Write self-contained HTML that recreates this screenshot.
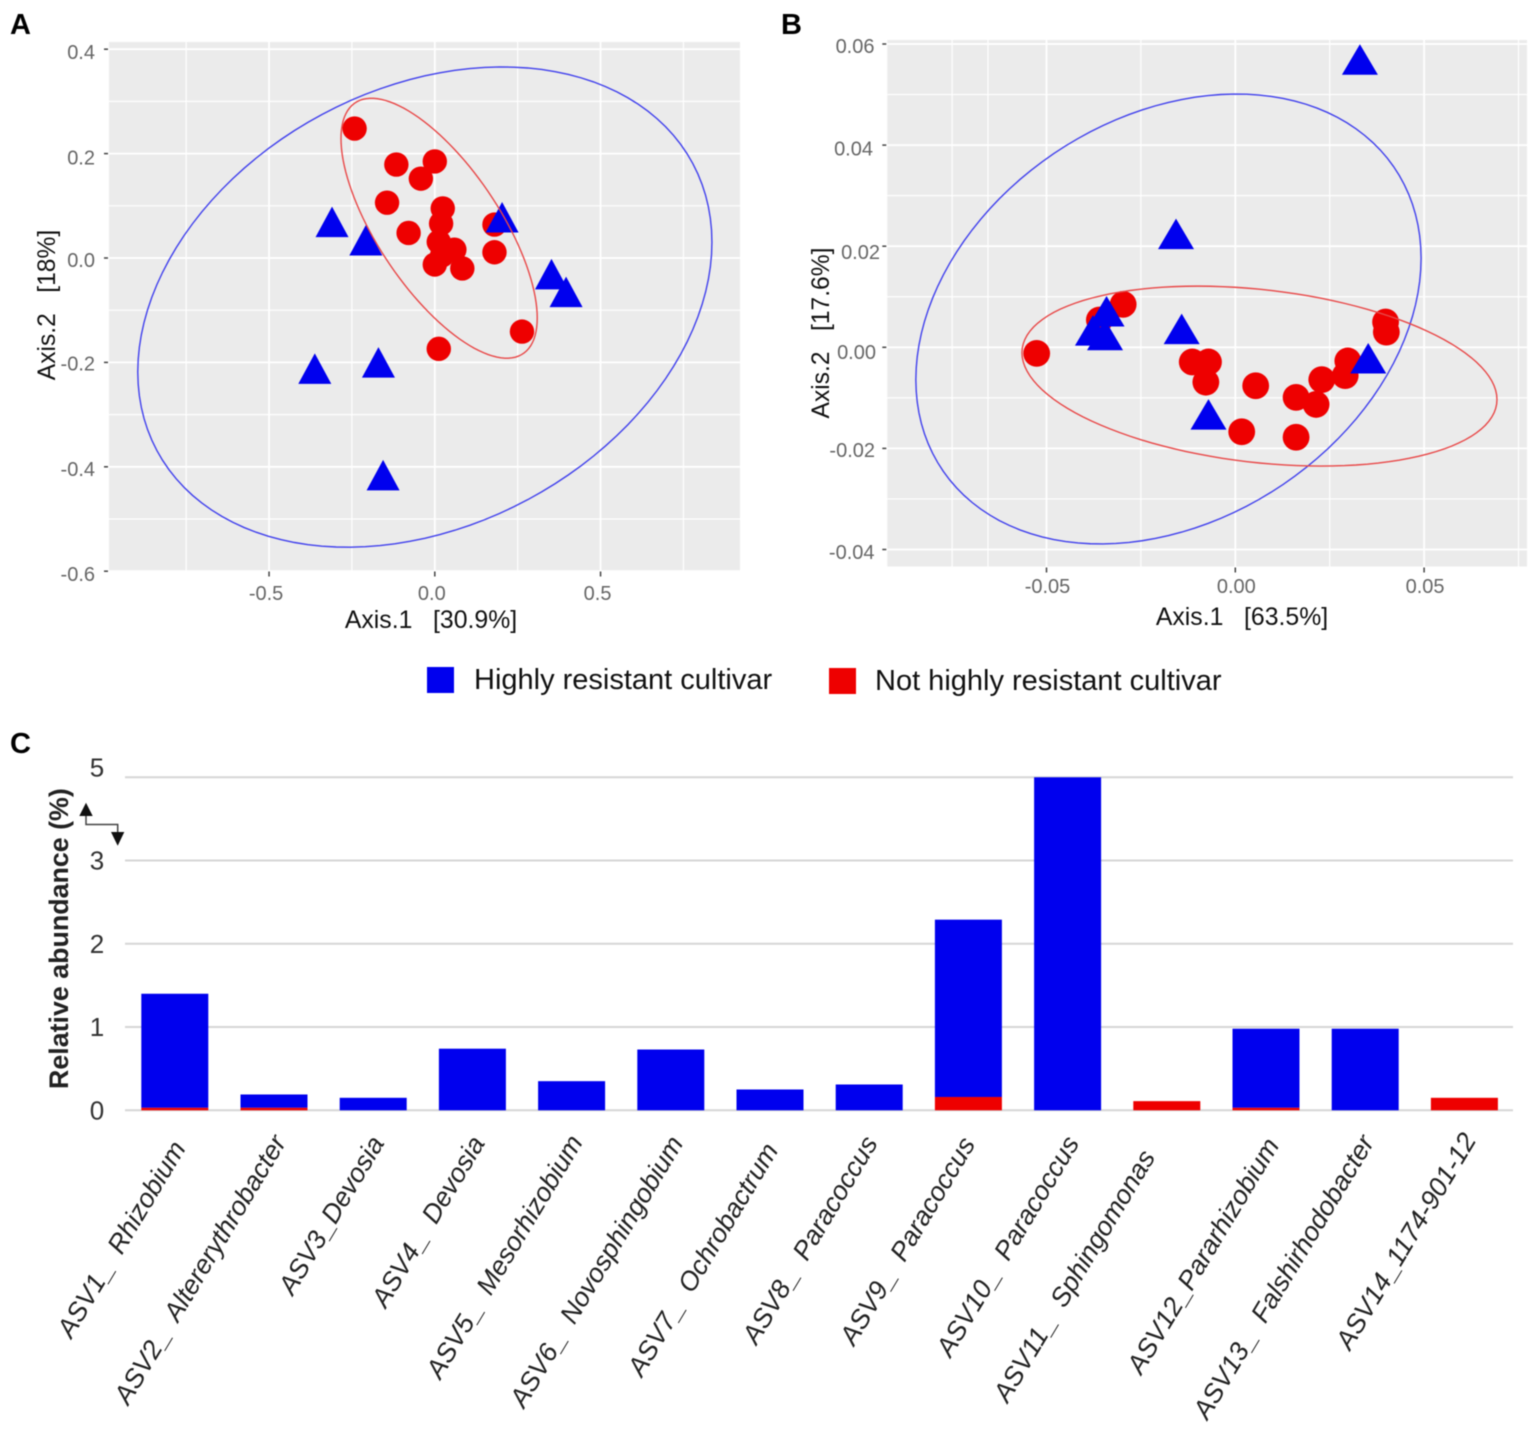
<!DOCTYPE html>
<html lang="en">
<head>
<meta charset="utf-8">
<title>Ordination plots and relative abundance chart</title>
<style>
  html, body { margin: 0; padding: 0; background: #fff; }
  body { width: 1535px; height: 1430px; overflow: hidden; }
  svg { display: block; font-family: "Liberation Sans", Arial, sans-serif; filter: blur(0.45px); }
  text { white-space: pre; }
</style>
</head>
<body>
<svg id="figure" xmlns="http://www.w3.org/2000/svg" width="1535" height="1430" viewBox="0 0 1535 1430">
  <rect x="0" y="0" width="1535" height="1430" fill="#ffffff"/>

  <text x="10" y="34" font-size="29" font-weight="bold" fill="#000">A</text>
  <text x="781" y="34" font-size="29" font-weight="bold" fill="#000">B</text>
  <text x="10" y="753" font-size="29" font-weight="bold" fill="#000">C</text>

  <g id="panelA"></g>
  <g id="panelB"></g>

  <g>
    <g>
      <rect x="427" y="667" width="27" height="26" fill="#0000ee"/>
      <text x="474" y="689" font-size="29" fill="#111">Highly resistant cultivar</text>
    </g>
    <g>
      <rect x="829" y="668" width="27" height="26" fill="#ee0000"/>
      <text x="875" y="690" font-size="29" fill="#111">Not highly resistant cultivar</text>
    </g>
  </g>

  <g id="panelC"></g>
  <text transform="translate(68,1089) rotate(-90)" font-size="26.8" font-weight="bold" fill="#222">Relative abundance (%)</text>
  <g>
    <path d="M86 814 V824.5 H117.7 V835" fill="none" stroke="#444" stroke-width="1.5"/>
    <polygon points="86,802.7 92.7,816 79.3,816" fill="#111"/>
    <polygon points="111,832 124.3,832 117.7,845.7" fill="#111"/>
  </g>
</svg>

<script>
/* ---------- Panel A data ---------- */
const aXTicks = [-0.5, 0, 0.5];
const aXTickLabels = ["-0.5", "0.0", "0.5"];
const aXMinor = [-0.75, -0.25, 0.25, 0.75];
const aYTicks = [0.4, 0.2, 0, -0.2, -0.4, -0.6];
const aYTickLabels = ["0.4", "0.2", "0.0", "-0.2", "-0.4", "-0.6"];
const aYMinor = [0.3, 0.1, -0.1, -0.3, -0.5];
const aCircleX = [-0.242, -0.116, 0.0, -0.042, -0.144, 0.024, 0.019, -0.079, 0.012, 0.059, 0.022, 0.0, 0.083, 0.18, 0.18, 0.263, 0.012];
const aCircleY = [0.248, 0.179, 0.185, 0.152, 0.106, 0.095, 0.066, 0.048, 0.031, 0.016, 0.005, -0.0125, -0.02, 0.011, 0.064, -0.141, -0.174];
const aTriangleX = [-0.31, -0.208, 0.203, 0.352, 0.396, -0.17, -0.362, -0.156];
const aTriangleY = [0.06, 0.025, 0.069, -0.04, -0.074, -0.209, -0.221, -0.425];
/* Ellipse summaries: centre [x, y], half-extent [x, y], correlation */
const aBlueEllipseCentre = [-0.030, -0.094];
const aBlueEllipseExtent = [0.866, 0.460];
const aBlueEllipseCorrelation = [0.27];
const aRedEllipseCentre = [0.013, 0.057];
const aRedEllipseExtent = [0.296, 0.249];
const aRedEllipseCorrelation = [-0.69];

/* ---------- Panel B data ---------- */
const bXTicks = [-0.05, 0, 0.05];
const bXTickLabels = ["-0.05", "0.00", "0.05"];
const bXMinor = [-0.075, -0.0655, -0.025, 0.025, 0.075];
const bYTicks = [0.06, 0.04, 0.02, 0, -0.02, -0.04];
const bYTickLabels = ["0.06", "0.04", "0.02", "0.00", "-0.02", "-0.04"];
const bYMinor = [0.05, 0.03, 0.01, -0.01, -0.03];
const bCircleX = [-0.0297, -0.036, -0.0526, -0.0114, -0.0071, -0.0078, 0.0054, 0.0161, 0.0214, 0.0229, 0.0291, 0.0298, 0.0398, 0.04, 0.0017, 0.0161];
const bCircleY = [0.0085, 0.0054, -0.0012, -0.0029, -0.0029, -0.0069, -0.0076, -0.0099, -0.0113, -0.0064, -0.0056, -0.0027, 0.005, 0.003, -0.0167, -0.0178];
const bTriangleX = [0.033, -0.0157, -0.0142, -0.0341, -0.0377, -0.0345, 0.0352, -0.0071];
const bTriangleY = [0.056, 0.0215, 0.0027, 0.0062, 0.0024, 0.0015, -0.0031, -0.0142];
const bBlueEllipseCentre = [-0.0177, 0.0056];
const bBlueEllipseExtent = [0.0669, 0.0445];
const bBlueEllipseCorrelation = [0.27];
const bRedEllipseCentre = [0.0064, -0.0057];
const bRedEllipseExtent = [0.0629, 0.0178];
const bRedEllipseCorrelation = [-0.26];

/* ---------- Panel C data ---------- */
const asvCategories = ["ASV1_  Rhizobium", "ASV2_  Altererythrobacter", "ASV3_Devosia", "ASV4_  Devosia", "ASV5_  Mesorhizobium", "ASV6_  Novosphingobium", "ASV7_  Ochrobactrum", "ASV8_  Paracoccus", "ASV9_  Paracoccus", "ASV10_  Paracoccus", "ASV11_  Sphingomonas", "ASV12_Pararhizobium", "ASV13_  Falshirhodobacter", "ASV14_1174-901-12"];
const highlyResistant = [1.40, 0.19, 0.15, 0.74, 0.35, 0.73, 0.25, 0.31, 2.29, 5.0, 0, 0.98, 0.98, 0];
const notHighlyResistant = [0.03, 0.03, 0, 0, 0, 0, 0, 0, 0.16, 0, 0.11, 0.03, 0, 0.15];
const abundanceTicks = [0, 1, 2, 3, 5];
const abundanceTickLabels = ["0", "1", "2", "3", "5"];

/* Hand-placed label anchors in the figure: layout only, not data */
const labelNudgeX = [11.7, 13, 11.8, 13.2, 12, 13.2, 9, 9.3, 7.6, 12.4, -10.8, 14, 9.8, 12.6];
const labelNudgeY = [1148, 1142, 1143, 1143, 1142, 1143, 1150, 1143, 1144, 1143, 1157, 1145, 1142, 1140];

const SVG_NS = "http://www.w3.org/2000/svg";
function make(parent, tag) {
  const el = document.createElementNS(SVG_NS, tag);
  parent.appendChild(el);
  return el;
}

function drawOrdination(parent, cfg) {
  const sx = v => cfg.x0 + v * cfg.xUnit;
  const sy = v => cfg.y0 - v * cfg.yUnit;

  function ellipsePath(centre, extent, correlation) {
    const rho = correlation[0];
    const q = Math.sqrt(1 - rho * rho);
    let d = "";
    for (let k = 0; k < 120; k++) {
      const t = k / 120 * 2 * Math.PI;
      const vx = centre[0] + extent[0] * Math.cos(t);
      const vy = centre[1] + extent[1] * (rho * Math.cos(t) + q * Math.sin(t));
      d += (k ? "L" : "M") + sx(vx).toFixed(2) + " " + sy(vy).toFixed(2);
    }
    return d + "Z";
  }

  const bg = make(parent, "rect");
  
  
  bg.setAttribute("x", cfg.left);
  bg.setAttribute("y", cfg.top);
  bg.setAttribute("width", cfg.right - cfg.left);
  bg.setAttribute("height", cfg.bottom - cfg.top);
  bg.setAttribute("fill", "#ebebeb");

  function gridLine(x1, y1, x2, y2, w) {
    const l = make(parent, "line");
    
    
    l.setAttribute("x1", x1);
    l.setAttribute("y1", y1);
    l.setAttribute("x2", x2);
    l.setAttribute("y2", y2);
    l.setAttribute("stroke", "#ffffff");
    l.setAttribute("stroke-width", w);
  }
  cfg.xMinor.forEach(v => gridLine(sx(v), cfg.top, sx(v), cfg.bottom, 1.2));
  cfg.yMinor.forEach(v => gridLine(cfg.left, sy(v), cfg.right, sy(v), 1.2));
  cfg.xTicks.forEach(v => gridLine(sx(v), cfg.top, sx(v), cfg.bottom, 1.8));
  cfg.yTicks.forEach(v => gridLine(cfg.left, sy(v), cfg.right, sy(v), 1.8));

  cfg.xTicks.forEach((v, i) => {
    const t = make(parent, "line");
    
    
    t.setAttribute("x1", sx(v));
    t.setAttribute("x2", sx(v));
    t.setAttribute("y1", cfg.bottom + 1);
    t.setAttribute("y2", cfg.bottom + 6);
    t.setAttribute("stroke", "#444");
    t.setAttribute("stroke-width", 1.5);
    const lab = make(parent, "text");
    
    
    lab.setAttribute("x", sx(v) + cfg.xLabelDx);
    lab.setAttribute("y", cfg.xLabelY);
    lab.setAttribute("text-anchor", "middle");
    lab.setAttribute("font-size", 20);
    lab.setAttribute("fill", "#666");
    lab.textContent = cfg.xTickLabels[i];
  });
  cfg.yTicks.forEach((v, i) => {
    const t = make(parent, "line");
    
    
    t.setAttribute("x1", cfg.left - 5);
    t.setAttribute("x2", cfg.left - 1);
    t.setAttribute("y1", sy(v));
    t.setAttribute("y2", sy(v));
    t.setAttribute("stroke", "#444");
    t.setAttribute("stroke-width", 1.5);
    const lab = make(parent, "text");
    
    
    lab.setAttribute("x", cfg.yLabelRight + cfg.yLabelDx[i]);
    lab.setAttribute("y", sy(v) + cfg.yLabelDy[i]);
    lab.setAttribute("text-anchor", "end");
    lab.setAttribute("font-size", 20);
    lab.setAttribute("fill", "#666");
    lab.textContent = cfg.yTickLabels[i];
  });

  cfg.circleX.forEach((v, i) => {
    const c = make(parent, "circle");
    
    
    c.setAttribute("cx", sx(v));
    c.setAttribute("cy", sy(cfg.circleY[i]));
    c.setAttribute("r", cfg.r);
    c.setAttribute("fill", "#ee0000");
  });
  cfg.triangleX.forEach((v, i) => {
    const px = sx(v), py = sy(cfg.triangleY[i]);
    const p = make(parent, "polygon");
    
    
    p.setAttribute("points", px + "," + (py - 20) + " " + (px - cfg.tw) + "," + (py + 10.5) + " " + (px + cfg.tw) + "," + (py + 10.5));
    p.setAttribute("fill", "#0000ee");
  });

  const blue = make(parent, "path");
  
  
  blue.setAttribute("d", ellipsePath(cfg.blueCentre, cfg.blueExtent, cfg.blueCorrelation));
  blue.setAttribute("fill", "none");
  blue.setAttribute("stroke", "#4040ec");
  blue.setAttribute("stroke-width", 1.4);
  const red = make(parent, "path");
  
  
  red.setAttribute("d", ellipsePath(cfg.redCentre, cfg.redExtent, cfg.redCorrelation));
  red.setAttribute("fill", "none");
  red.setAttribute("stroke", "#e84848");
  red.setAttribute("stroke-width", 1.4);

  const xTitle = make(parent, "text");
  
  
  xTitle.setAttribute("x", cfg.xTitleX);
  xTitle.setAttribute("y", cfg.xTitleY);
  xTitle.setAttribute("text-anchor", "middle");
  xTitle.setAttribute("font-size", 24.8);
  xTitle.setAttribute("fill", "#111");
  xTitle.textContent = cfg.xTitle;

  const yTitle = make(parent, "text");
  
  
  yTitle.setAttribute("transform", "translate(" + cfg.yTitleX + "," + cfg.yTitleY + ") rotate(-90)");
  yTitle.setAttribute("text-anchor", "middle");
  yTitle.setAttribute("font-size", 24.6);
  yTitle.setAttribute("fill", "#111");
  yTitle.textContent = cfg.yTitle;
}

drawOrdination(document.getElementById("panelA"), {
  left: 109, right: 740, top: 42, bottom: 570.5,
  x0: 434.8, xUnit: 331.5, y0: 258, yUnit: 522,
  r: 12.2, tw: 16.5,
  xTicks: aXTicks, xTickLabels: aXTickLabels, xMinor: aXMinor,
  yTicks: aYTicks, yTickLabels: aYTickLabels, yMinor: aYMinor,
  circleX: aCircleX, circleY: aCircleY, triangleX: aTriangleX, triangleY: aTriangleY,
  blueCentre: aBlueEllipseCentre, blueExtent: aBlueEllipseExtent, blueCorrelation: aBlueEllipseCorrelation,
  redCentre: aRedEllipseCentre, redExtent: aRedEllipseExtent, redCorrelation: aRedEllipseCorrelation,
  xLabelY: 600, xLabelDx: -3,
  yLabelRight: 95, yLabelDx: [0, 0, 0, 0, 0, 0], yLabelDy: [10, 11, 9, 8, 9, 10],
  xTitle: "Axis.1   [30.9%]", xTitleX: 431, xTitleY: 628,
  yTitle: "Axis.2   [18%]", yTitleX: 55, yTitleY: 305
});
drawOrdination(document.getElementById("panelB"), {
  left: 887.3, right: 1527, top: 40, bottom: 566.5,
  x0: 1235.3, xUnit: 3776, y0: 347.3, yUnit: 5055,
  r: 13.4, tw: 18,
  xTicks: bXTicks, xTickLabels: bXTickLabels, xMinor: bXMinor,
  yTicks: bYTicks, yTickLabels: bYTickLabels, yMinor: bYMinor,
  circleX: bCircleX, circleY: bCircleY, triangleX: bTriangleX, triangleY: bTriangleY,
  blueCentre: bBlueEllipseCentre, blueExtent: bBlueEllipseExtent, blueCorrelation: bBlueEllipseCorrelation,
  redCentre: bRedEllipseCentre, redExtent: bRedEllipseExtent, redCorrelation: bRedEllipseCorrelation,
  xLabelY: 593, xLabelDx: 1,
  yLabelRight: 875, yLabelDx: [-0.5, -2, 5, 1, 0, -0.5], yLabelDy: [9.2, 10.5, 12.9, 11.6, 8.8, 9.7],
  xTitle: "Axis.1   [63.5%]", xTitleX: 1242, xTitleY: 625,
  yTitle: "Axis.2   [17.6%]", yTitleX: 829, yTitleY: 333
});

/* ---------- Panel C ---------- */
(function () {
  const parent = document.getElementById("panelC");
  const gridLeft = 125, gridRight = 1513, yBase = 1110.3, unitPx = 83.25;
  const barWidth = 67;
  /* broken axis: 0-3 linear, then 3-5 compressed to one tick interval */
  const yScale = v => yBase - unitPx * (v <= 3 ? v : 3 + (v - 3) / 2);
  const xBand = i => 174.8 + 99.2 * i;

  abundanceTicks.forEach((v, i) => {
    const g = make(parent, "line");
    
    
    g.setAttribute("x1", gridLeft);
    g.setAttribute("x2", gridRight);
    g.setAttribute("y1", yScale(v));
    g.setAttribute("y2", yScale(v));
    g.setAttribute("stroke", "#d6d6d6");
    g.setAttribute("stroke-width", 2);
    const t = make(parent, "text");
    
    
    t.setAttribute("x", 97);
    t.setAttribute("y", yScale(v) + (v === 5 ? -1 : 9));
    t.setAttribute("text-anchor", "middle");
    t.setAttribute("font-size", 26);
    t.setAttribute("fill", "#333");
    t.textContent = abundanceTickLabels[i];
  });

  asvCategories.forEach((name, i) => {
    const lower = notHighlyResistant[i];
    const upper = highlyResistant[i];
    /* red segment sits at the base; the blue bar covers from there to its total */
    if (upper > 0) {
      const b = make(parent, "rect");
      
      
      b.setAttribute("x", xBand(i) - barWidth / 2);
      b.setAttribute("y", yScale(upper));
      b.setAttribute("width", barWidth);
      b.setAttribute("height", yScale(lower) - yScale(upper));
      b.setAttribute("fill", "#0000ee");
    }
    if (lower > 0) {
      const r = make(parent, "rect");
      
      
      r.setAttribute("x", xBand(i) - barWidth / 2);
      r.setAttribute("y", yScale(lower));
      r.setAttribute("width", barWidth);
      r.setAttribute("height", yBase - yScale(lower));
      r.setAttribute("fill", "#ee0000");
    }
    const lab = make(parent, "text");
    
    
    lab.setAttribute("transform", "translate(" + (xBand(i) + labelNudgeX[i]) + "," + labelNudgeY[i] + ") rotate(-59)");
    lab.setAttribute("text-anchor", "end");
    lab.setAttribute("font-size", 26.6);
    lab.setAttribute("font-style", "italic");
    lab.setAttribute("fill", "#222");
    lab.textContent = name;
  });
})();
</script>
</body>
</html>
